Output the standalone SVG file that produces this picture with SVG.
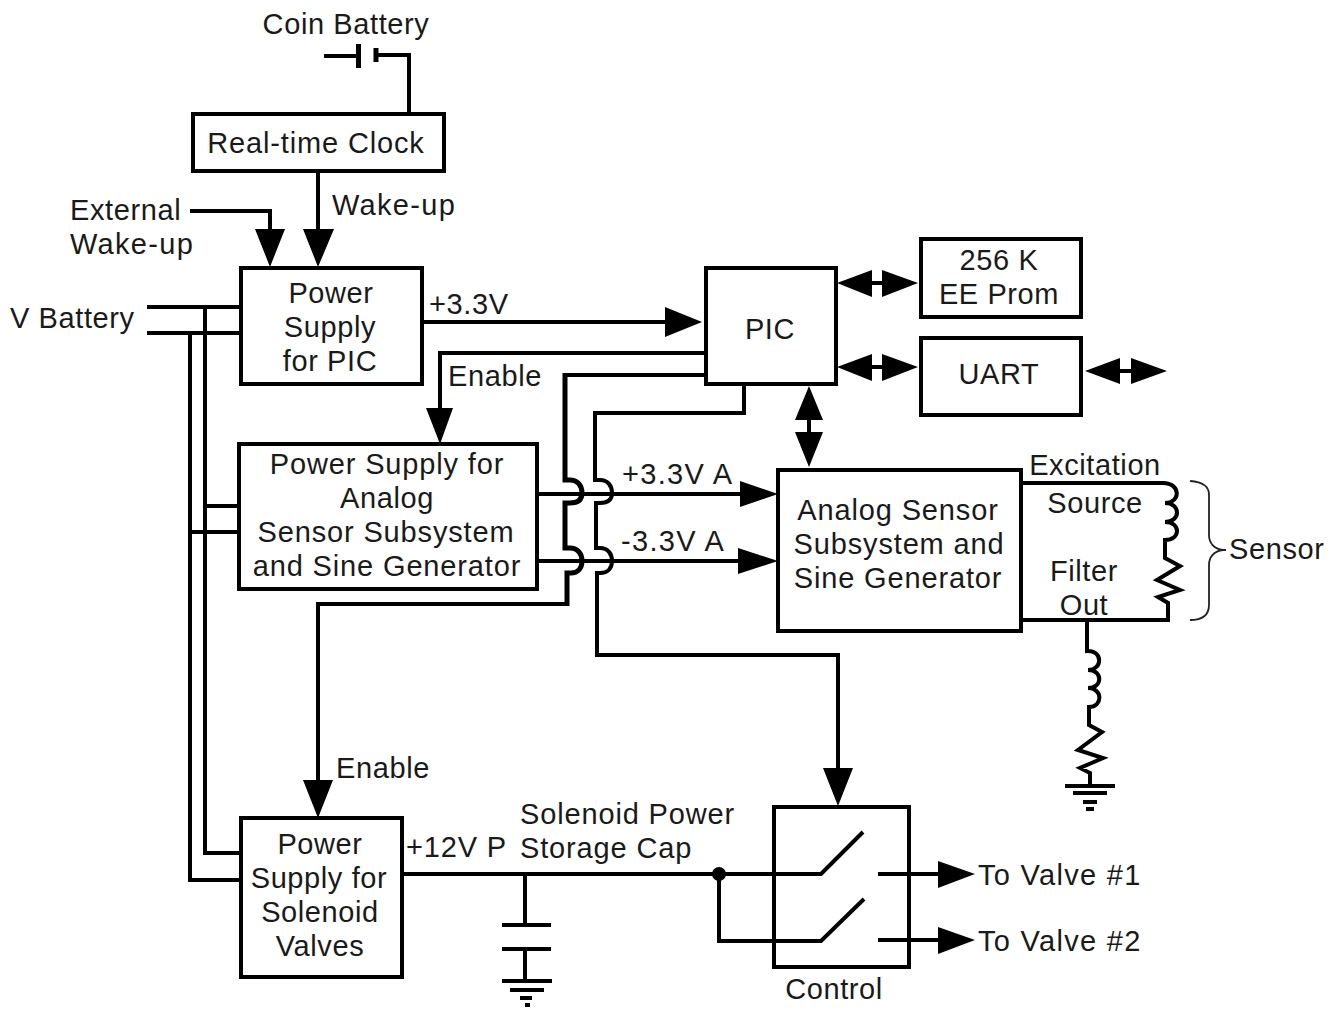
<svg xmlns="http://www.w3.org/2000/svg" width="1343" height="1011" viewBox="0 0 1343 1011">
<style>
text{font-family:"Liberation Sans",Arial,sans-serif;font-size:29px;fill:#1a1a1a;text-anchor:middle;letter-spacing:.6px}
.s{text-anchor:start}
.x{letter-spacing:1.3px}
.m{letter-spacing:.85px}
rect{fill:#fff;stroke:#000;stroke-width:4}
.w{fill:none;stroke:#000;stroke-width:4}
.t{fill:none;stroke:#000;stroke-width:5}
.h{fill:#000;stroke:none}
</style>
<rect width="1343" height="1011" style="fill:#fff;stroke:none"/>
<g id="connectors">
<path class="w" d="M324 56H358M376 55H409V114"/>
<path class="t" d="M358.500 44V68M376 48V62"/>
<path class="w" d="M318 171V235M190 211H270V235"/>
<path class="h" d="M303 229H334L318 267ZM255 229H285L270 267Z"/>
<path class="w" d="M147 307H241M147 333H241M205 307V853H241M190 333V880H241M205 506H239M190 532H239"/>
<path class="w" d="M422 322H670"/>
<path class="h" d="M665 307L702 322L665 337Z"/>
<path class="w" d="M706 353H440V415"/>
<path class="h" d="M426 408H453L440 444Z"/>
<path class="w" d="M706 375H565M567 604H318V785"/>
<path class="t" d="M565 373V480H570C578 480 582 486 582 493C582 500 578 503 570 503H565V548H570C578 548 582 554 582 561C582 568 578 573 571 573H567V606"/>
<path class="h" d="M303 780H333L318 818Z"/>
<path class="w" d="M744 384V413H595V480H600C608 480 612 486 612 493C612 500 608 503 600 503H596V548H600C608 548 612 554 612 561C612 568 608 573 600 573H597V655H838V775"/>
<path class="h" d="M823 768H853L838 806Z"/>
<path class="w" d="M537 494H745M537 561H745"/>
<path class="h" d="M740 481L778 494L740 507ZM738 548L778 561L738 574Z"/>
<path class="w" d="M870 283H885M870 367H885M1120 371H1132M809 418V434"/>
<path class="h" d="M837 283L872 270V297ZM918 283L882 270V297ZM837 367L872 354V381ZM918 367L882 354V381ZM1085 371L1120 358V384ZM1167 371L1131 358V384ZM809 386L823 420H795ZM809 467L823 432H795Z"/>
<path class="w" d="M1021 483H1163C1181 483 1181 503 1165 503C1181 503 1181 522 1165 522C1181 522 1181 540 1165 540V558L1180 566L1157 580L1180 590L1158 597L1168 603V620H1021"/>
<path d="M1190 481C1203 482 1209 486 1209 495V535C1209 543 1214 549 1223 550C1214 551 1209 557 1209 565V605C1209 615 1203 620 1190 620M1223 550H1226" style="fill:none;stroke:#222;stroke-width:1.800"/>
<path class="w" d="M1087 620V651C1103 650 1103 670 1088 670C1103 670 1103 688 1088 688C1103 688 1103 707 1089 707V725L1102 732L1078 750L1103 758L1080 768L1090 773V786"/>
<path class="w" d="M1065 786H1115M1073 793H1107M1083 802H1097M1086 809H1094"/>
<path class="w" d="M402 874H821L863 832M719 874V941H821L864 899M878 874H945M878 940H945"/>
<circle cx="719" cy="874" r="7"/>
<path class="h" d="M938 861L975 874L938 888ZM938 927L975 940L938 954Z"/>
<path class="w" d="M525 874V925M502 925H551M502 949H551M525 949V981M502 981H552M510 990H544M520 998H532M525 1005H530"/>
</g>
<g id="coin-battery"><text x="346" y="34">Coin Battery</text></g>
<g id="rtc"><rect x="193" y="114" width="251" height="57"/><text x="316" y="153" class="m">Real-time Clock</text></g>
<g id="label-wakeup"><text class="s x" x="332" y="215">Wake-up</text></g>
<g id="label-external"><text class="s" x="70" y="220">External</text><text class="s x" x="70" y="254">Wake-up</text></g>
<g id="label-vbattery"><text class="s" x="10" y="328">V Battery</text></g>
<g id="psu-pic"><rect x="241" y="268" width="181" height="116"/><text x="331" y="303">Power</text><text x="330" y="337">Supply</text><text x="330" y="371">for PIC</text></g>
<g id="label-33v"><text class="s" x="429" y="314">+3.3V</text></g>
<g id="label-enable1"><text class="s" x="448" y="386">Enable</text></g>
<g id="pic"><rect x="706" y="268" width="130" height="116"/><text x="770" y="339">PIC</text></g>
<g id="eeprom"><rect x="921" y="239" width="160" height="78"/><text x="999" y="270">256 K</text><text x="999" y="304">EE Prom</text></g>
<g id="uart"><rect x="921" y="338" width="160" height="77"/><text x="999" y="384">UART</text></g>
<g id="psu-analog"><rect x="239" y="444" width="298" height="145"/><text x="387" y="474" class="m">Power Supply for</text><text x="387" y="508">Analog</text><text x="386" y="542" class="m">Sensor Subsystem</text><text x="387" y="576" class="m">and Sine Generator</text></g>
<g id="label-a"><text class="s x" x="622" y="484">+3.3V A</text><text class="s x" x="621" y="551">-3.3V A</text></g>
<g id="analog"><rect x="778" y="470" width="243" height="161"/><text x="898" y="520" class="m">Analog Sensor</text><text x="899" y="554" class="m">Subsystem and</text><text x="898" y="588" class="m">Sine Generator</text></g>
<g id="sensor-labels"><text x="1095" y="475">Excitation</text><text x="1095" y="513">Source</text><text x="1084" y="581">Filter</text><text x="1084" y="615">Out</text><text class="s" x="1229" y="559">Sensor</text></g>
<g id="label-enable2"><text class="s" x="336" y="778">Enable</text></g>
<g id="psu-solenoid"><rect x="241" y="818" width="161" height="159"/><text x="320" y="854">Power</text><text x="319" y="888">Supply for</text><text x="320" y="922">Solenoid</text><text x="320" y="956">Valves</text></g>
<g id="label-12v"><text class="s m" x="406" y="857">+12V P</text><text class="s m" x="520" y="824">Solenoid Power</text><text class="s m" x="520" y="858">Storage Cap</text></g>
<g id="control"><rect x="774" y="807" width="135" height="160" style="fill:none"/><text x="834" y="999">Control</text></g>
<g id="valve-labels"><text class="s x" x="978" y="885">To Valve #1</text><text class="s x" x="978" y="951">To Valve #2</text></g>
</svg>
